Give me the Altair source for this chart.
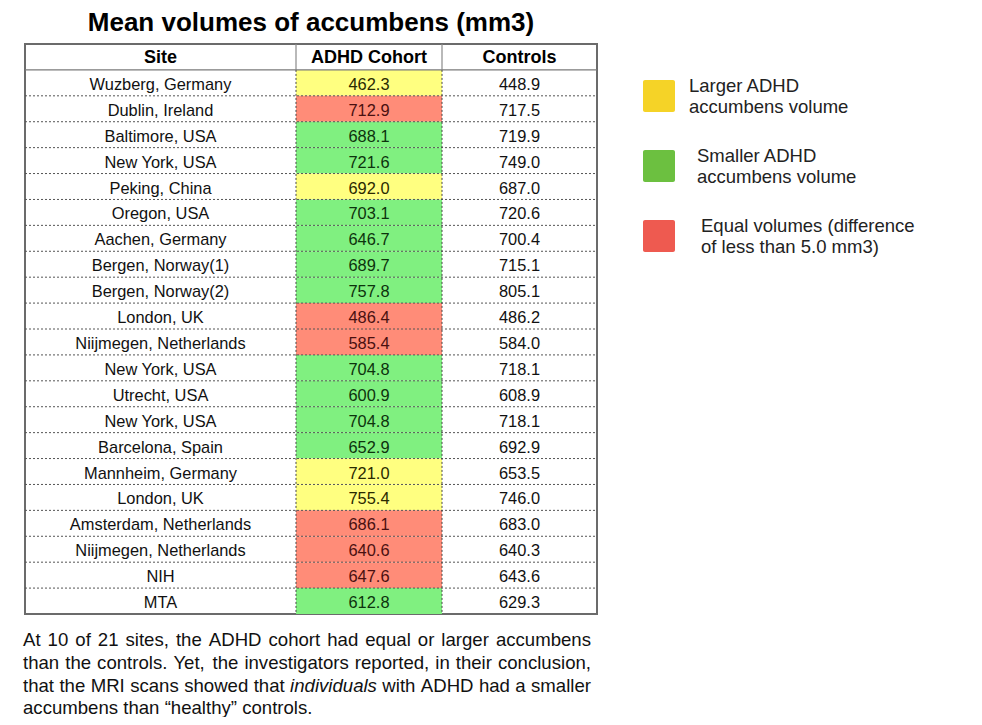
import altair as alt
import pandas as pd

# ---------------- data ----------------
sites = ["Wuzberg, Germany", "Dublin, Ireland", "Baltimore, USA", "New York, USA",
         "Peking, China", "Oregon, USA", "Aachen, Germany", "Bergen, Norway(1)",
         "Bergen, Norway(2)", "London, UK", "Niijmegen, Netherlands", "New York, USA",
         "Utrecht, USA", "New York, USA", "Barcelona, Spain", "Mannheim, Germany",
         "London, UK", "Amsterdam, Netherlands", "Niijmegen, Netherlands", "NIH", "MTA"]
adhd = ["462.3", "712.9", "688.1", "721.6", "692.0", "703.1", "646.7", "689.7",
        "757.8", "486.4", "585.4", "704.8", "600.9", "704.8", "652.9", "721.0",
        "755.4", "686.1", "640.6", "647.6", "612.8"]
controls = ["448.9", "717.5", "719.9", "749.0", "687.0", "720.6", "700.4", "715.1",
            "805.1", "486.2", "584.0", "718.1", "608.9", "718.1", "692.9", "653.5",
            "746.0", "683.0", "640.3", "643.6", "629.3"]
group_keys = ["L", "E", "S", "S", "L", "S", "S", "S", "S", "E", "E", "S", "S", "S",
              "S", "L", "L", "E", "E", "E", "S"]

headers = ["Site", "ADHD Cohort", "Controls"]
legend_keys = ["L", "S", "E"]
legend_labels = [["Larger ADHD", "accumbens volume"],
                 ["Smaller ADHD", "accumbens volume"],
                 ["Equal volumes (difference", "of less than 5.0 mm3)"]]
title_text = "Mean volumes of accumbens (mm3)"
footnote_lines = [
    "At 10 of 21 sites, the ADHD cohort had equal or larger accumbens",
    "than the controls. Yet, the investigators reported, in their conclusion,",
    "that the MRI scans showed that *individuals* with ADHD had a smaller",
    "accumbens than \u201chealthy\u201d controls.",
]

# ---------------- styles / layout ----------------
FONT = "Liberation Sans"
cell_colors = ["#FFFF80", "#80F080", "#FF8C78"]
legend_colors = ["#F5D327", "#6CC040", "#EE5A50"]
text_colors = {"L": "#2a2a00", "S": "#0d330d", "E": "#4a1010"}

W, H = 572, 570
PAD = {"left": 17, "top": 36, "right": 966 - 17 - W, "bottom": 709 - 36 - H}
E1, E2 = (296 - 25) / W, (442 - 25) / W       # column edges (fraction of table width)
col_centers = [E1 / 2, (E1 + E2) / 2, (E2 + 1) / 2]
NROWS = len(sites) + 1

xs = alt.Scale(domain=[0, 1], nice=False, zero=False)
ys = alt.Scale(domain=[0, NROWS], nice=False, zero=False, reverse=True)

rows = pd.DataFrame({"site": sites, "adhd": adhd, "ctrl": controls, "key": group_keys})
rows["y0"] = range(1, len(sites) + 1)
rows["y1"] = rows["y0"] + 1
rows["ym"] = rows["y0"] + 0.5

X = lambda **k: alt.X(scale=xs, axis=None, **k)
Y = lambda **k: alt.Y(scale=ys, axis=None, **k)

cells = alt.Chart(rows).mark_rect().encode(
    x=X(datum=E1), x2=alt.X2(datum=E2),
    y=Y(field="y0", type="quantitative"), y2=alt.Y2(field="y1"),
    color=alt.Color("key:N", scale=alt.Scale(domain=legend_keys, range=cell_colors), legend=None),
)

bounds = pd.DataFrame({"b": list(range(2, NROWS))})
hdots = alt.Chart(bounds).mark_rule(color="#555555", strokeDash=[2, 2], strokeWidth=1).encode(
    x=X(datum=0), x2=alt.X2(datum=1), y=Y(field="b", type="quantitative"))

hline = alt.Chart(pd.DataFrame({"b": [1]})).mark_rule(color="#7a7a7a", strokeWidth=1.2).encode(
    x=X(datum=0), x2=alt.X2(datum=1), y=Y(field="b", type="quantitative"))

edges = pd.DataFrame({"e": [E1, E2]})
vhead = alt.Chart(edges).mark_rule(color="#8a8a8a", strokeWidth=1.2).encode(
    x=X(field="e", type="quantitative"), y=Y(datum=0), y2=alt.Y2(datum=1))
vdots = alt.Chart(edges).mark_rule(color="#444444", strokeDash=[2, 2], strokeWidth=1).encode(
    x=X(field="e", type="quantitative"), y=Y(datum=1), y2=alt.Y2(datum=NROWS))

hdr = pd.DataFrame({"h": headers, "cx": col_centers, "ym": [0.5] * 3})
header_text = alt.Chart(hdr).mark_text(font=FONT, fontSize=18, fontWeight="bold",
                                       color="#000", baseline="middle", dy=1).encode(
    x=X(field="cx", type="quantitative"), y=Y(field="ym", type="quantitative"), text="h:N")

site_text = alt.Chart(rows).mark_text(font=FONT, fontSize=16.4, color="#111",
                                      baseline="middle", dy=2).encode(
    x=X(datum=col_centers[0]), y=Y(field="ym", type="quantitative"), text="site:N")
ctrl_text = alt.Chart(rows).mark_text(font=FONT, fontSize=16.4, color="#111",
                                      baseline="middle", dy=2).encode(
    x=X(datum=col_centers[2]), y=Y(field="ym", type="quantitative"), text="ctrl:N")
adhd_texts = [
    alt.Chart(rows).transform_filter(alt.datum.key == k).mark_text(
        font=FONT, fontSize=16.4, color=c, baseline="middle", dy=2).encode(
        x=X(datum=col_centers[1]), y=Y(field="ym", type="quantitative"), text="adhd:N")
    for k, c in text_colors.items()
]

# ---- custom legend (right of table) ----
LEG_X, LEG_Y0, LEG_STEP, SQ, LH = 618, 52, 70, 32, 21
label_dx = [14, 22, 26]
one = pd.DataFrame({"k": [0]})
legend_layers = []
for i, (lab, col) in enumerate(zip(legend_labels, legend_colors)):
    cy = LEG_Y0 + i * LEG_STEP
    legend_layers.append(
        alt.Chart(one).mark_rect(color=col, cornerRadius=2).encode(
            x=alt.value(LEG_X), x2=alt.value(LEG_X + SQ),
            y=alt.value(cy - SQ / 2), y2=alt.value(cy + SQ / 2)))
    legend_layers.append(
        alt.Chart(one).mark_text(text=lab, font=FONT, fontSize=18.5, color="#222",
                                 align="left", baseline="middle", lineHeight=LH).encode(
            x=alt.value(LEG_X + SQ + label_dx[i]), y=alt.value(cy - LH / 2)))

# ---- footnote: justified text using Arial (Liberation Sans) advance widths ----
AW = {' ': 278, ',': 278, '.': 278, '(': 333, ')': 333, '\u201c': 333, '\u201d': 333,
      '0': 556, '1': 556, '2': 556, '3': 556, '5': 556,
      'A': 667, 'D': 722, 'H': 722, 'I': 278, 'M': 833, 'R': 722, 'Y': 667,
      'a': 556, 'b': 556, 'c': 500, 'd': 556, 'e': 556, 'f': 278, 'g': 556, 'h': 556,
      'i': 222, 'l': 222, 'm': 833, 'n': 556, 'o': 556, 'p': 556, 'q': 556, 'r': 333,
      's': 500, 't': 278, 'u': 556, 'v': 500, 'w': 722, 'y': 500}
FS = 18.6
wid = lambda s: sum(AW.get(ch, 556) for ch in s) * FS / 1000
X0, X1 = -2, 566
LINE_Y = [596, 619, 642, 664]

foot_layers = []
for i, line in enumerate(footnote_lines):
    words = line.split(" ")
    clean = [w.strip("*") for w in words]
    ws = [wid(w) for w in clean]
    if i < len(footnote_lines) - 1:
        gap = (X1 - X0 - sum(ws)) / (len(words) - 1)
    else:
        gap = wid(" ")
    xpos, cur = [], X0
    for w in ws:
        xpos.append(cur)
        cur += w + gap
    df = pd.DataFrame({"w": clean, "fx": [p / W for p in xpos],
                       "it": [w.startswith("*") for w in words]})
    for italic in (False, True):
        sub = df[df["it"] == italic]
        if len(sub) == 0:
            continue
        foot_layers.append(
            alt.Chart(sub).mark_text(font=FONT, fontSize=FS, align="left", baseline="middle",
                                     color="#111", fontStyle="italic" if italic else "normal").encode(
                x=X(field="fx", type="quantitative"), y=alt.value(LINE_Y[i]), text="w:N"))

chart = alt.layer(
    cells, hdots, hline, vhead, vdots, header_text, site_text, ctrl_text,
    *adhd_texts, *legend_layers, *foot_layers,
).properties(
    width=W, height=H, padding=PAD, autosize=alt.AutoSizeParams(type="none"),
    background="white",
    title=alt.TitleParams(title_text, font=FONT, fontSize=26, fontWeight="bold",
                          color="#000", anchor="middle", offset=7),
).configure_view(stroke="#6b6b6b", strokeWidth=2)

chart.save("out.html", embed_options={"renderer": "svg", "actions": False})
